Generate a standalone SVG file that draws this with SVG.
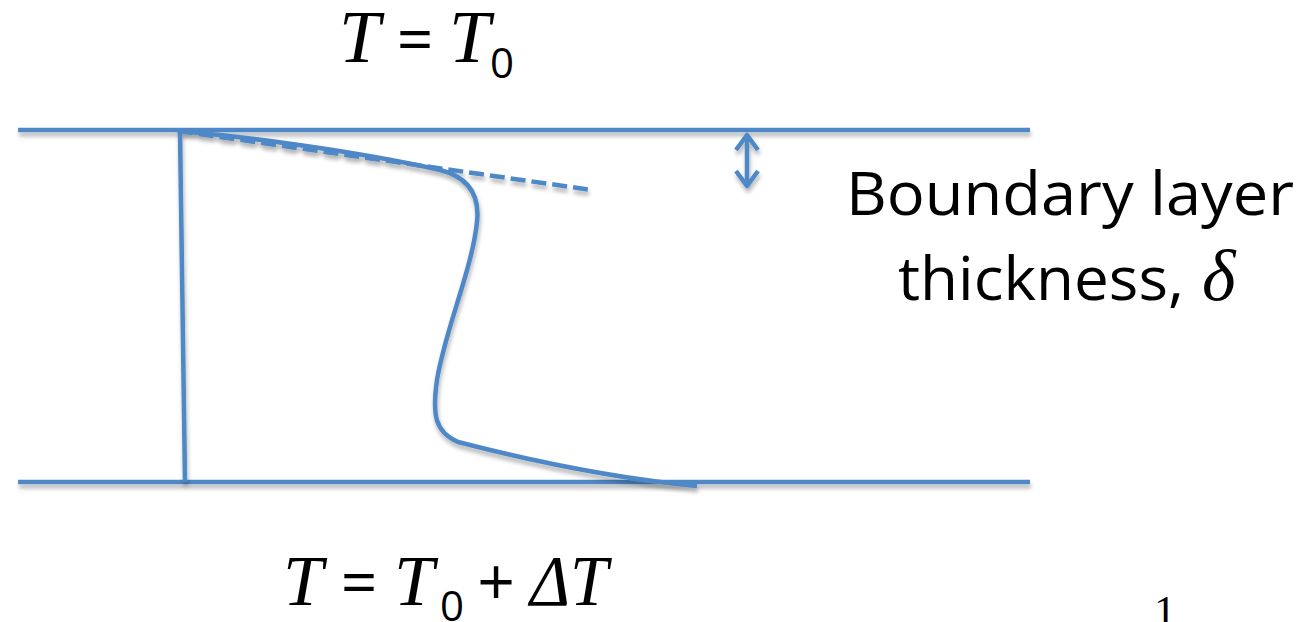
<svg xmlns="http://www.w3.org/2000/svg" width="1303" height="622" viewBox="0 0 1303 622">
<defs>
<style>
.ln{stroke:#4f88c6;stroke-width:4.5;fill:none;stroke-linecap:butt}
.it{font-family:"Liberation Serif",serif;font-style:italic;fill:#000}
.sn{font-family:"Open Sans","Liberation Sans",sans-serif;fill:#000}
.op{font-family:"Open Sans","Liberation Sans",sans-serif;fill:#000;text-anchor:middle}
</style>
<filter id="sh" x="-5%" y="-5%" width="110%" height="120%">
<feGaussianBlur in="SourceAlpha" stdDeviation="2"/>
<feOffset dx="1" dy="4"/>
<feComponentTransfer><feFuncA type="linear" slope="0.3"/></feComponentTransfer>
<feMerge><feMergeNode/><feMergeNode in="SourceGraphic"/></feMerge>
</filter>
</defs>
<rect width="1303" height="622" fill="#fff"/>
<g id="plates" filter="url(#sh)">
<line class="ln" x1="18" y1="130" x2="1030" y2="130"/>
<line class="ln" x1="18" y1="482" x2="1030" y2="482"/>
</g>
<g id="connectors" filter="url(#sh)">
<line class="ln" x1="180" y1="131" x2="185" y2="482"/>
<path class="ln" d="M178,131 C250,137 360,152 440,170 C468,177 480,195 477,222 C472,270 445,330 437,380 C432,415 435,432 458,442 C520,458 610,478 697,486"/>
<line class="ln" x1="178" y1="131" x2="592" y2="190" stroke-dasharray="15,6"/>
<g id="arrow">
<line class="ln" x1="747" y1="135" x2="747" y2="186"/>
<polyline class="ln" points="736,150 747,135 758,150" stroke-linejoin="round"/>
<polyline class="ln" points="736,171 747,186 758,171" stroke-linejoin="round"/>
</g>
</g>
<g id="top-label">
<text class="it" x="339" y="62" font-size="74">T</text>
<text class="op" x="415" y="62" font-size="64">=</text>
<text class="it" x="449" y="62" font-size="74">T</text>
<text class="sn" x="490" y="78" font-size="42">0</text>
</g>
<g id="bottom-label">
<text class="it" x="283" y="605" font-size="72">T</text>
<text class="op" x="359" y="605" font-size="64">=</text>
<text class="it" x="394" y="605" font-size="72">T</text>
<text class="sn" x="440" y="621" font-size="42">0</text>
<text class="op" x="496" y="605" font-size="66">+</text>
<text class="it" x="530" y="605" font-size="72" textLength="78" lengthAdjust="spacingAndGlyphs">ΔT</text>
</g>
<g id="boundary-label">
<text class="sn" x="846" y="215" font-size="60" textLength="448" lengthAdjust="spacingAndGlyphs">Boundary layer</text>
<text class="sn" x="898" y="300" font-size="60" textLength="286" lengthAdjust="spacingAndGlyphs">thickness,</text>
<text class="it" x="1202" y="300" font-size="72">δ</text>
</g>
<text x="1154" y="626" font-family="'Liberation Serif',serif" font-size="44">1</text>
</svg>
